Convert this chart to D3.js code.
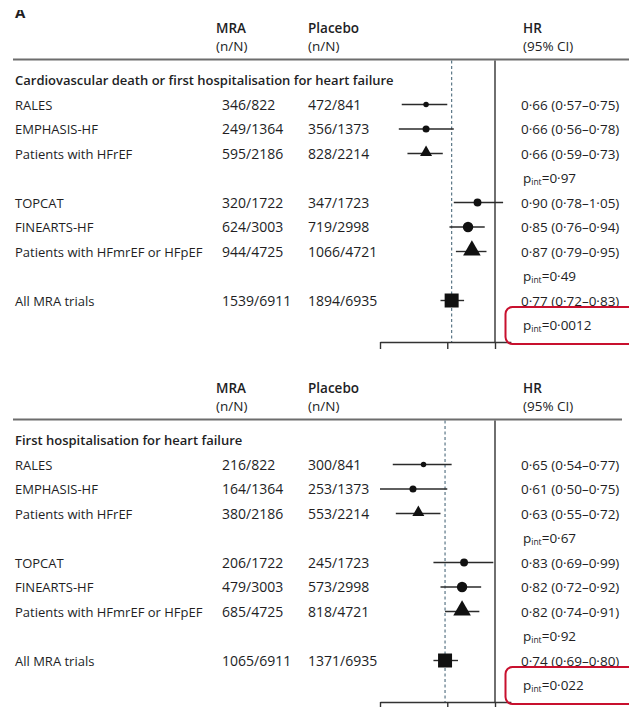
<!DOCTYPE html>
<html>
<head>
<meta charset="utf-8">
<script src="https://cdn.jsdelivr.net/npm/d3@7"></script>
<style>
  html, body { margin: 0; padding: 0; background: #fff; }
  svg { display: block; }
  text { font-family: "Open Sans", Lato, sans-serif; fill: #221e1f; }
</style>
</head>
<body>
<svg id="chart" width="629" height="707"></svg>
<script>
// ---------------- DATA ----------------
const panelTitles = [
  "Cardiovascular death or first hospitalisation for heart failure",
  "First hospitalisation for heart failure"
];
const columnHeaders = [["MRA", "(n/N)"], ["Placebo", "(n/N)"], ["HR", "(95% CI)"]];

// row kinds: trial = circle, subgroup = triangle, pint = interaction p, overall = square
const rowLabels = ["RALES", "EMPHASIS-HF", "Patients with HFrEF", "", "TOPCAT", "FINEARTS-HF",
                   "Patients with HFmrEF or HFpEF", "", "All MRA trials", ""];
const rowKinds  = ["trial", "trial", "subgroup", "pint", "trial", "trial", "subgroup", "pint", "overall", "pint"];

// Panel 1: CV death or first HF hospitalisation
const mraCounts1     = ["346/822", "249/1364", "595/2186", null, "320/1722", "624/3003", "944/4725", null, "1539/6911", null];
const placeboCounts1 = ["472/841", "356/1373", "828/2214", null, "347/1723", "719/2998", "1066/4721", null, "1894/6935", null];
const hr1    = [0.66, 0.66, 0.66, null, 0.90, 0.85, 0.87, null, 0.77, null];
const lo1    = [0.57, 0.56, 0.59, null, 0.78, 0.76, 0.79, null, 0.72, null];
const hi1    = [0.75, 0.78, 0.73, null, 1.05, 0.94, 0.95, null, 0.83, null];
const pint1  = [null, null, null, "0·97", null, null, null, "0·49", null, "0·0012"];

// Panel 2: First HF hospitalisation
const mraCounts2     = ["216/822", "164/1364", "380/2186", null, "206/1722", "479/3003", "685/4725", null, "1065/6911", null];
const placeboCounts2 = ["300/841", "253/1373", "553/2214", null, "245/1723", "573/2998", "818/4721", null, "1371/6935", null];
const hr2    = [0.65, 0.61, 0.63, null, 0.83, 0.82, 0.82, null, 0.74, null];
const lo2    = [0.54, 0.50, 0.55, null, 0.69, 0.72, 0.74, null, 0.69, null];
const hi2    = [0.77, 0.75, 0.72, null, 0.99, 0.92, 0.91, null, 0.80, null];
const pint2  = [null, null, null, "0·67", null, null, null, "0·92", null, "0·022"];

const axisTicks = [0.5, 0.75, 1];
const highlightedRow = 9; // boxed interaction p value

// ---------------- LAYOUT ----------------
const svg = d3.select("#chart");
const W = 629;
const panelOffset = 360;
const rowStep = 24.5;
const colLabelX = 15, colMraX = 222, colPlaX = 308, colHrX = 521;
const headerMraX = 216;
const FS = 13, FSN = 14, FSHR = 13.5;

const x = d3.scaleLog().domain([0.5, 1]).range([380, 495]);
const xAxisScale = x.copy().domain([0.5, 1.1]).range([x(0.5), x(1.1)]);

const fmt = v => d3.format(".2f")(v).replace(".", "·");
const totalN = (a, b) => (+a.split("/")[1]) + (+b.split("/")[1]);
const area = d3.scaleLinear().domain([0, 13846]).range([0, 196]);
const symFor = { trial: d3.symbolCircle, subgroup: d3.symbolTriangle, overall: d3.symbolSquare };

// "A" label (partly cropped at the top in the reference)
svg.append("text").attr("x", 15).attr("y", 18).attr("font-size", 15).attr("font-weight", 700).text("A");
svg.append("rect").attr("x", 0).attr("y", 0).attr("width", 60).attr("height", 10).attr("fill", "#fff");

const panels = [
  { title: panelTitles[0], mra: mraCounts1, pla: placeboCounts1, hr: hr1, lo: lo1, hi: hi1, p: pint1 },
  { title: panelTitles[1], mra: mraCounts2, pla: placeboCounts2, hr: hr2, lo: lo2, hi: hi2, p: pint2 }
];

panels.forEach((P, pi) => {
  const g = svg.append("g").attr("transform", `translate(0,${pi * panelOffset})`);
  const titleY = 80;
  const rowY = i => titleY + rowStep * (i + 1);
  const ruleY = 59.5;
  const axisY = 342;

  // headers
  const hx = [headerMraX, colPlaX, colHrX + 2];
  columnHeaders.forEach((h, j) => {
    g.append("text").attr("x", hx[j]).attr("y", 33).attr("font-size", 13.5).attr("font-weight", 600).text(h[0]);
    g.append("text").attr("x", hx[j]).attr("y", 51).attr("font-size", 13.5).text(h[1]);
  });

  // header rule
  g.append("line").attr("x1", 13).attr("x2", pi === 0 ? W : 622)
    .attr("y1", ruleY).attr("y2", ruleY).attr("stroke", "#6d6d6d").attr("stroke-width", 2.2);

  // reference lines
  g.append("line").attr("x1", x(1)).attr("x2", x(1)).attr("y1", ruleY + 1).attr("y2", axisY)
    .attr("stroke", "#333").attr("stroke-width", 1.4);
  const overallHR = P.hr[8];
  g.append("line").attr("x1", x(overallHR)).attr("x2", x(overallHR)).attr("y1", ruleY + 1).attr("y2", axisY)
    .attr("stroke", "#5b7787").attr("stroke-width", 1.2).attr("stroke-dasharray", "3,2.5");

  // axis
  const ax = g.append("g").attr("transform", `translate(0,${axisY})`)
    .call(d3.axisBottom(xAxisScale).tickValues(axisTicks).tickSizeInner(7).tickSizeOuter(0).tickFormat(""));
  ax.select(".domain").attr("stroke", "#333").attr("stroke-width", 1.4);
  ax.selectAll(".tick line").attr("stroke", "#333").attr("stroke-width", 1.4);

  // section title
  g.append("text").attr("x", colLabelX).attr("y", titleY + 5).attr("font-size", FS).attr("font-weight", 600)
    .text(P.title);

  rowKinds.forEach((kind, i) => {
    const y = rowY(i);
    if (kind === "pint") {
      const t = g.append("text").attr("x", colHrX + 2).attr("y", y + 5).attr("font-size", FSHR);
      t.append("tspan").text("p");
      t.append("tspan").attr("font-size", 8.5).attr("dy", 2).text("int");
      t.append("tspan").attr("dy", -2).text("=" + P.p[i]);
      if (i === highlightedRow) {
        g.append("rect").attr("x", 505.5).attr("y", y - 18).attr("width", 140).attr("height", 37)
          .attr("rx", 7).attr("fill", "none").attr("stroke", "#c8102e").attr("stroke-width", 2);
      }
      return;
    }
    g.append("text").attr("x", colLabelX).attr("y", y + 5).attr("font-size", FS).text(rowLabels[i]);
    g.append("text").attr("x", colMraX).attr("y", y + 5).attr("font-size", FSN).text(P.mra[i]);
    g.append("text").attr("x", colPlaX).attr("y", y + 5).attr("font-size", FSN).text(P.pla[i]);
    g.append("text").attr("x", colHrX).attr("y", y + 5).attr("font-size", FSHR)
      .text(`${fmt(P.hr[i])} (${fmt(P.lo[i])}–${fmt(P.hi[i])})`);
    // CI line
    g.append("line").attr("x1", x(P.lo[i])).attr("x2", x(P.hi[i])).attr("y1", y).attr("y2", y)
      .attr("stroke", "#2a2a2a").attr("stroke-width", 1.4);
    // marker
    g.append("path")
      .attr("d", d3.symbol().type(symFor[kind]).size(area(totalN(P.mra[i], P.pla[i])))())
      .attr("transform", `translate(${x(P.hr[i])},${kind === "subgroup" ? y - 1 : y})`)
      .attr("fill", "#111");
  });
});
</script>
</body>
</html>
